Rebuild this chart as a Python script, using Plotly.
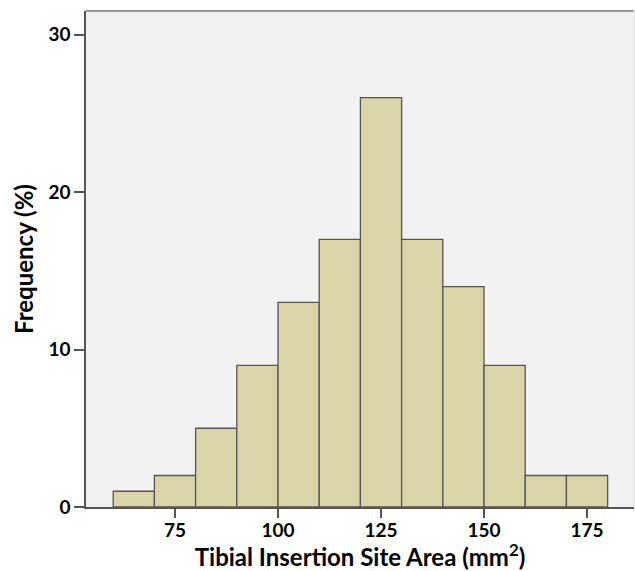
import plotly.graph_objects as go

bin_left = [60, 70, 80, 90, 100, 110, 120, 130, 140, 150, 160, 170]
bin_width = 10
freq = [1, 2, 5, 9, 13, 17, 26, 17, 14, 9, 2, 2]
x_ticks = [75, 100, 125, 150, 175]
y_ticks = [0, 10, 20, 30]

centers = [b + bin_width / 2 for b in bin_left]

fig = go.Figure(go.Bar(
    x=centers, y=freq, width=bin_width,
    marker=dict(color="#d9d5a7", line=dict(color="#555555", width=1.3)),
))

font = "Lato, 'Open Sans', sans-serif"
fig.update_layout(
    width=635, height=571,
    margin=dict(l=86, r=1, t=11, b=64),
    paper_bgcolor="white", plot_bgcolor="#f2f2f2",
    showlegend=False,
    font=dict(family=font, color="black"),
    xaxis=dict(
        range=[53.4, 186.4], tickvals=x_ticks, ticks="outside", ticklen=9,
        tickwidth=1.5, tickcolor="#555555", ticklabelstandoff=-4,
        showline=True, linecolor="#555555", linewidth=1.5, mirror=False,
        showgrid=False, zeroline=False,
        tickfont=dict(size=19, family=font, weight="bold"),
        title=dict(text="Tibial Insertion Site Area (mm<sup>2</sup>)", standoff=0,
                   font=dict(size=24, family=font, weight="bold")),
    ),
    yaxis=dict(
        range=[0, 31.5], tickvals=y_ticks, ticks="outside", ticklen=10,
        tickwidth=1.5, tickcolor="#555555",
        showline=True, linecolor="#555555", linewidth=1.5,
        showgrid=False, zeroline=False,
        tickfont=dict(size=19, family=font, weight="bold"),
        title=dict(text="Frequency (%)", standoff=8,
                   font=dict(size=24, family=font, weight="bold")),
    ),
    shapes=[
        dict(type="line", xref="paper", yref="paper", x0=0, x1=1, y0=1, y1=1,
             line=dict(color="#777777", width=1.5)),
        dict(type="line", xref="paper", yref="paper", x0=1, x1=1, y0=0, y1=1,
             line=dict(color="#d8d8d8", width=1)),
    ],
)

fig.write_html(
    "out.html",
    config={"displayModeBar": False},
    post_script="document.body.style.margin='0';document.body.style.overflow='hidden';",
)
